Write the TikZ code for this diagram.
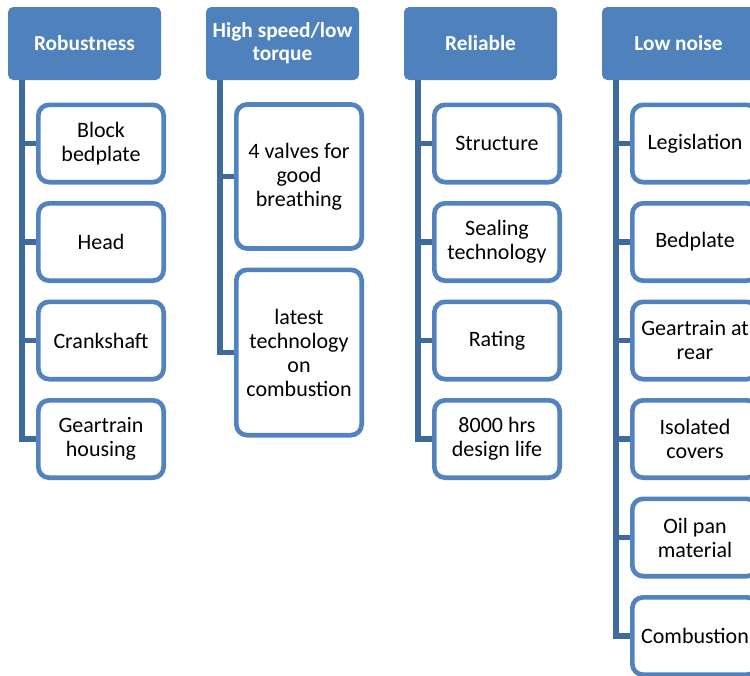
\documentclass[tikz,border=0pt]{standalone}
\usepackage{fontspec}
\setmainfont{Carlito}
\definecolor{hblue}{HTML}{4F81BD}
\definecolor{kblue}{HTML}{5283BF}
\definecolor{cblue}{HTML}{3E6A9C}
\begin{document}
\begin{tikzpicture}[x=0.75pt,y=-0.75pt,
  hdr/.style={rectangle, rounded corners=4pt, fill=hblue, text=white,
    font=\bfseries\fontsize{16}{17.5}\selectfont, minimum width=114.75pt,
    minimum height=54.75pt, align=center, inner sep=0pt},
  kid/.style={rectangle, rounded corners=8pt, draw=kblue, line width=3.5pt,
    fill=white, font=\fontsize{16.5}{18}\selectfont, minimum width=94pt,
    minimum height=58pt, align=center, inner sep=0pt},
  conn/.style={draw=cblue, line width=4.2pt}]
\useasboundingbox (0,0) rectangle (750,675);
\clip (0,0) rectangle (750,675);

% headers
\node[hdr] (h1) at (84.5,43.5) {Robustness};
\node[hdr] (h2) at (282.5,43.5) {High speed/low\\torque};
\node[hdr] (h3) at (480.5,43.5) {Reliable};
\node[hdr] (h4) at (678.5,43.5) {Low noise};

% column 1
\node[kid] (a1) at (101,143.5) {Block\\bedplate};
\node[kid] (a2) at (101,242) {Head};
\node[kid] (a3) at (101,340.5) {Crankshaft};
\node[kid] (a4) at (101,439) {Geartrain\\housing};

% column 2
\node[kid, minimum height=108pt] (b1) at (299,176.5) {4 valves for\\good\\breathing};
\node[kid, minimum height=124pt] (b2) at (299,352.5) {latest\\technology\\on\\combustion};

% column 3
\node[kid] (c1) at (497,143.5) {Structure};
\node[kid] (c2) at (497,242) {Sealing\\technology};
\node[kid] (c3) at (497,340.5) {Rating};
\node[kid] (c4) at (497,439) {8000 hrs\\design life};

% column 4
\node[kid] (d1) at (695,143.5) {Legislation};
\node[kid] (d2) at (695,242) {Bedplate};
\node[kid] (d3) at (695,340.5) {Geartrain at\\rear};
\node[kid] (d4) at (695,439) {Isolated\\covers};
\node[kid] (d5) at (695,537.5) {Oil pan\\material};
\node[kid] (d6) at (695,636) {Combustion};

% connector stems
\coordinate (v1) at (22,80);
\coordinate (v2) at (220,80);
\coordinate (v3) at (418,80);
\coordinate (v4) at (616,80);

\draw[conn] (v1) |- (a4.west);
\foreach \n in {a1,a2,a3} \draw[conn] (v1 |- \n.west) -- (\n.west);
\draw[conn] (v2) |- (b2.west);
\draw[conn] (v2 |- b1.west) -- (b1.west);
\draw[conn] (v3) |- (c4.west);
\foreach \n in {c1,c2,c3} \draw[conn] (v3 |- \n.west) -- (\n.west);
\draw[conn] (v4) |- (d6.west);
\foreach \n in {d1,d2,d3,d4,d5} \draw[conn] (v4 |- \n.west) -- (\n.west);
\end{tikzpicture}
\end{document}
